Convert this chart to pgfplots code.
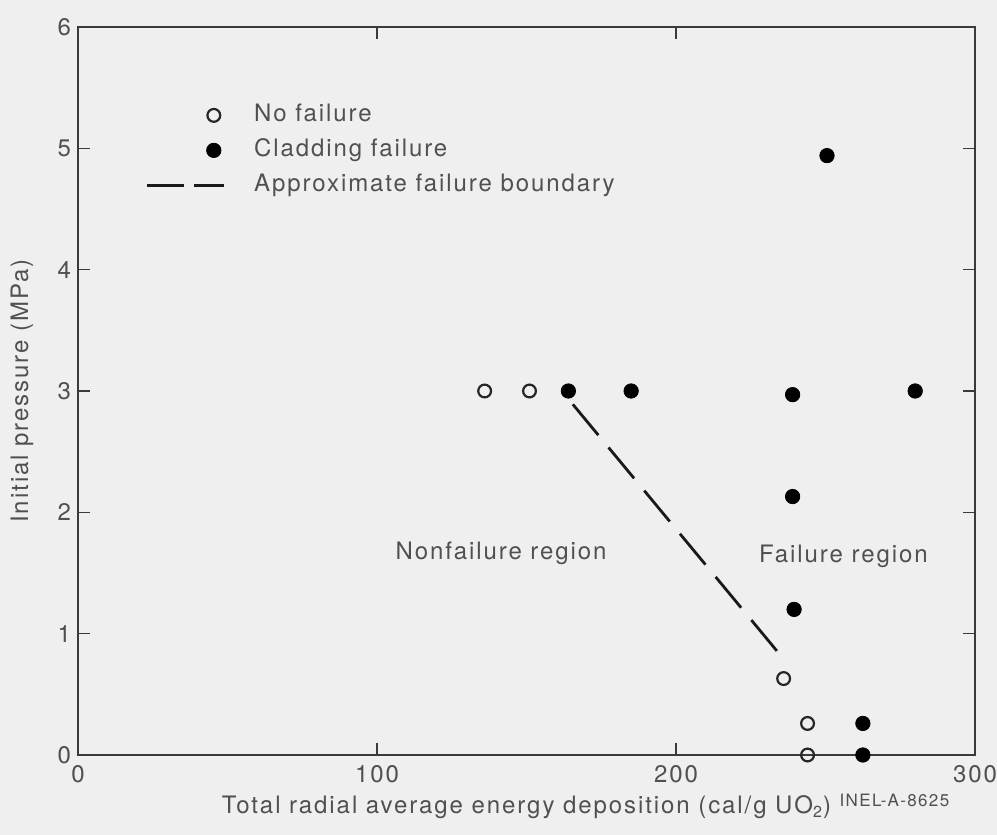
\documentclass[border=0pt]{standalone}
\usepackage{fontspec}
\setmainfont{TeX Gyre Heros}[LetterSpace=8]
\usepackage{pgfplots}
\pgfplotsset{compat=1.18}
\usetikzlibrary{backgrounds,calc}
\definecolor{bg}{HTML}{EFEFEF}
\definecolor{txt}{HTML}{505050}
\definecolor{axc}{HTML}{3A3A3A}
\pgfplotsset{
  markleg/.style={legend image code/.code={\path (0pt,0pt) (52pt,0pt); \draw[##1] plot coordinates {(33.5pt,0pt)};}},
  dashleg/.style={legend image code/.code={\path (0pt,0pt) (52pt,0pt); \draw[##1, dash pattern=on 18.5pt off 5pt] (0pt,0pt) -- (38.5pt,0pt);}},
}
\begin{document}
\begin{tikzpicture}[font=\fontsize{12}{14}\selectfont]
\begin{axis}[name=ax,
  width=448.5pt, height=364pt, scale only axis,
  xmin=0, xmax=300, ymin=0, ymax=6,
  xtick={0,100,200,300}, ytick={0,1,2,3,4,5,6},
  tick align=inside, major tick length=6pt,
  axis line style={axc, line width=0.75pt},
  tick style={axc, line width=0.75pt},
  ticklabel style={txt},
  xticklabel style={yshift=-1.5pt},
  /pgf/number format/assume math mode=true,
  clip=false,
  xlabel={Total radial average energy deposition (cal/g UO\textsubscript{2})\rlap{\ \raisebox{0.6ex}{\fontsize{8.5}{10}\selectfont INEL-A-8625}}},
  ylabel={Initial pressure (MPa)},
  xlabel style={txt, at={(axis description cs:0.5,-0.0805)}, anchor=base},
  ylabel style={txt, at={(axis description cs:-0.0624,0.5)}, anchor=center},
  legend style={draw=none, fill=none, at={(0.0747,0.897)}, anchor=north west,
    inner sep=0pt, row sep=4.5pt,
    nodes={text height=8.5pt, text depth=2.5pt, inner sep=1pt, text=txt}},
  legend cell align=left,
]
\addplot[only marks, mark=o, mark size=3.2pt, mark options={line width=1.1pt, draw=black!85}, markleg]
  coordinates {(136,3.0) (151,3.0) (236,0.63) (244,0.26) (244,0.0)};
\addlegendentry{No failure}
\addplot[only marks, mark=*, mark size=3.6pt, mark options={draw=black, fill=black}, markleg]
  coordinates {(164,3.0) (185,3.0) (239,2.97) (280,3.0) (250.5,4.94) (239,2.13) (239.5,1.2) (262.5,0.26) (262.5,0.0)};
\addlegendentry{Cladding failure}
\addplot[black!90, line width=1.4pt, dash pattern=on 20pt off 8pt, dashleg]
  coordinates {(165.5,2.89) (234,0.85)};
\addlegendentry{Approximate failure boundary}
\node[text=txt] at (axis cs:141.5,1.66) {Nonfailure region};
\node[text=txt] at (axis cs:256,1.64) {Failure region};
\end{axis}
\begin{scope}[on background layer]
\fill[bg] ($(ax.south west)+(-39pt,-40pt)$) rectangle ($(ax.north east)+(11pt,13.5pt)$);
\end{scope}
\pgfresetboundingbox
\useasboundingbox ($(ax.south west)+(-39pt,-40pt)$) rectangle ($(ax.north east)+(11pt,13.5pt)$);
\end{tikzpicture}
\end{document}
